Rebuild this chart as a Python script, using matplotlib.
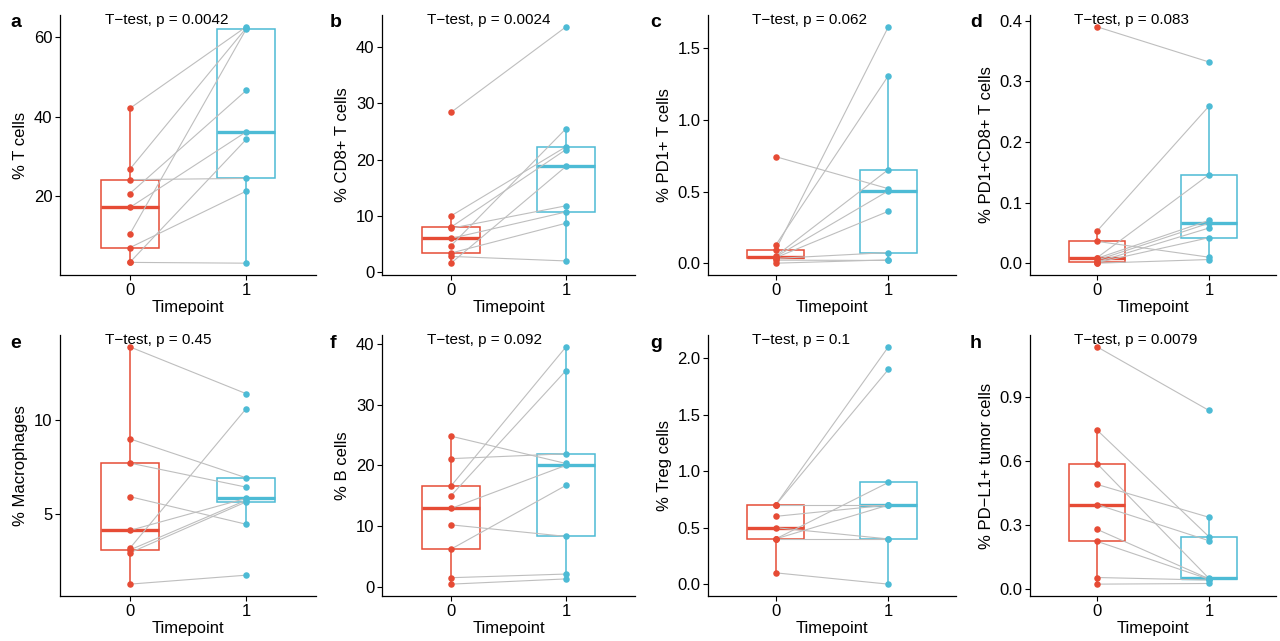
import matplotlib
matplotlib.use('Agg')
import matplotlib.pyplot as plt
import numpy as np

plt.rcParams['font.family'] = ['Liberation Sans', 'DejaVu Sans']

RED = '#E64B35'
BLUE = '#4DBBD5'
GREY = '#BEBEBE'

# paired values, same patient order in timepoint 0 and 1
t_cells_0 = [42.1, 26.8, 24.2, 20.7, 17.2, 10.5, 7.1, 3.4, 3.4]
t_cells_1 = [62.6, 62.3, 24.5, 46.6, 36.2, 62.0, 21.3, 34.3, 3.2]

cd8_0 = [28.4, 10.0, 8.0, 7.8, 6.0, 4.7, 3.4, 2.8, 1.6]
cd8_1 = [43.6, 22.3, 21.8, 11.8, 10.7, 25.5, 8.7, 2.0, 18.8]

pd1_0 = [0.743, 0.127, 0.095, 0.051, 0.046, 0.040, 0.035, 0.023, 0.002]
pd1_1 = [0.52, 1.306, 1.646, 0.653, 0.505, 0.363, 0.076, 0.021, 0.025]

pd1cd8_0 = [0.39, 0.053, 0.036, 0.009, 0.008, 0.005, 0.002, 0.001, 0.0]
pd1cd8_1 = [0.332, 0.259, 0.0099, 0.146, 0.0705, 0.066, 0.058, 0.042, 0.006]

macro_0 = [13.94, 9.01, 7.71, 5.91, 4.10, 3.14, 3.05, 2.90, 1.22]
macro_1 = [11.43, 6.92, 6.42, 4.43, 5.82, 10.63, 5.72, 5.63, 1.70]

bcell_0 = [24.8, 21.1, 16.6, 15.0, 12.9, 10.2, 6.2, 1.5, 0.44]
bcell_1 = [20.3, 21.9, 39.5, 35.6, 20.0, 8.3, 16.7, 2.1, 1.3]

treg_0 = [0.7, 0.7, 0.7, 0.6, 0.5, 0.4, 0.4, 0.4, 0.1]
treg_1 = [2.1, 1.9, 0.7, 0.7, 0.4, 0.9, 0.7, 0.4, 0.0]

pdl1_0 = [1.134, 0.745, 0.588, 0.491, 0.397, 0.281, 0.225, 0.056, 0.025]
pdl1_1 = [0.837, 0.247, 0.052, 0.3375, 0.228, 0.050, 0.048, 0.044, 0.028]

series = [(t_cells_0, t_cells_1), (cd8_0, cd8_1), (pd1_0, pd1_1), (pd1cd8_0, pd1cd8_1),
          (macro_0, macro_1), (bcell_0, bcell_1), (treg_0, treg_1), (pdl1_0, pdl1_1)]
letters = ['a', 'b', 'c', 'd', 'e', 'f', 'g', 'h']
ylabels = ['% T cells', '% CD8+ T cells', '% PD1+ T cells', '% PD1+CD8+ T cells',
           '% Macrophages', '% B cells', '% Treg cells', '% PD\u2212L1+ tumor cells']
pvals = ['0.0042', '0.0024', '0.062', '0.083', '0.45', '0.092', '0.1', '0.0079']
yticks = [[20, 40, 60], [0, 10, 20, 30, 40], [0, 0.5, 1.0, 1.5], [0, 0.1, 0.2, 0.3, 0.4],
          [5, 10], [0, 10, 20, 30, 40], [0, 0.5, 1.0, 1.5, 2.0], [0, 0.3, 0.6, 0.9]]
decimals = [False, False, True, True, False, False, True, True]
timepoints = ['0', '1']

W, H = 1280, 641
fig = plt.figure(figsize=(W / 100, H / 100), dpi=100)

# panel layout in pixels
lefts = [60, 382, 708, 1030]
rights = [316, 635, 956, 1276]
tops = [15, 335]
bottoms = [275, 596]
panel_x = [0, 320, 640, 960]
baselines = [27, 348]

for i, (v0, v1) in enumerate(series):
    r, c = divmod(i, 4)
    l, rr, t, b = lefts[c], rights[c], tops[r], bottoms[r]
    ax = fig.add_axes([l / W, 1 - b / H, (rr - l) / W, (b - t) / H])

    bp = ax.boxplot([v0, v1], positions=[0, 1], widths=0.5, whis=1.5,
                    showfliers=False, showcaps=False, patch_artist=True,
                    manage_ticks=False, zorder=1)
    for k, col in enumerate([RED, BLUE]):
        bp['boxes'][k].set(facecolor='white', edgecolor=col, linewidth=1.1)
        bp['medians'][k].set(color=col, linewidth=2.4)
        for w in bp['whiskers'][2 * k:2 * k + 2]:
            w.set(color=col, linewidth=1.1)

    for a, bb in zip(v0, v1):
        ax.plot([0, 1], [a, bb], color=GREY, lw=0.8, zorder=2)
    ax.scatter(np.zeros(len(v0)), v0, s=22, color=RED, zorder=3, linewidths=0)
    ax.scatter(np.ones(len(v1)), v1, s=22, color=BLUE, zorder=3, linewidths=0)

    allv = np.array(v0 + v1)
    lo, hi = allv.min(), allv.max()
    rng = hi - lo
    ax.set_ylim(lo - 0.05 * rng, hi + 0.05 * rng)
    ax.set_xlim(-0.6, 1.6)
    ax.set_xticks([0, 1])
    ax.set_xticklabels(timepoints)
    ax.set_yticks(yticks[i])
    if decimals[i]:
        ax.set_yticklabels(['%.1f' % v for v in yticks[i]])
    else:
        ax.set_yticklabels(['%d' % v for v in yticks[i]])
    ax.set_xlabel('Timepoint', fontsize=12, labelpad=2)
    ax.set_ylabel(ylabels[i], fontsize=12, labelpad=4)
    ax.tick_params(labelsize=12, length=3.5, width=0.8, colors='black', pad=2)
    for s in ['top', 'right']:
        ax.spines[s].set_visible(False)
    for s in ['left', 'bottom']:
        ax.spines[s].set_linewidth(0.9)

    ax.text(-0.21, hi, 'T\u2212test, p = ' + pvals[i], ha='left', va='bottom',
            fontsize=11, clip_on=False)

    fig.text((panel_x[c] + 10) / W, 1 - baselines[r] / H, letters[i],
             fontsize=14, fontweight='bold', va='baseline', ha='left')

fig.savefig('out.png', dpi=100)
